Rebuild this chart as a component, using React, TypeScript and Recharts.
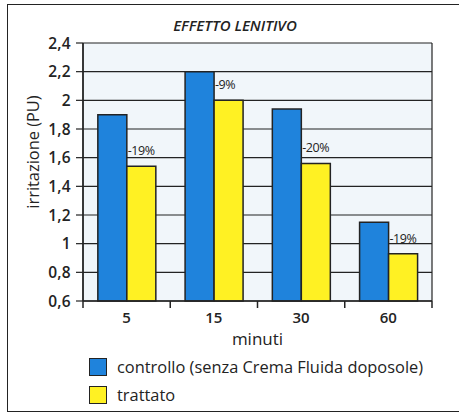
import { BarChart, Bar, XAxis, YAxis, CartesianGrid, LabelList, Label } from "recharts";

const minuti = ["5", "15", "30", "60"];
const controllo = [1.9, 2.2, 1.94, 1.15];
const trattato = [1.54, 2.0, 1.56, 0.93];
const riduzione = ["-19%", "-9%", "-20%", "-19%"];
const yTicks = [0.6, 0.8, 1, 1.2, 1.4, 1.6, 1.8, 2, 2.2, 2.4];
const seriesNames = ["controllo (senza Crema Fluida doposole)", "trattato"];
const seriesColors = ["#1f83dc", "#fff123"];

const data = minuti.map((m, i) => ({
  minuti: m,
  controllo: controllo[i],
  trattato: trattato[i],
  riduzione: riduzione[i],
}));

const font = "'Open Sans', sans-serif";
const ink = "#232323";
const W = 459;
const H = 416;
const plotLeft = 83;
const plotRight = 432;
const band = (plotRight - plotLeft) / minuti.length;

const fmt = (v: number) => String(v).replace(".", ",");

function XTick(props: any) {
  const { x, y, payload, index } = props;
  return (
    <g>
      <text x={x} y={y + 16} textAnchor="middle" dominantBaseline="central" fontSize={15} fontWeight={600} fill={ink} fontFamily={font}>
        {payload.value}
      </text>
      {index === 0 && <line x1={x - band / 2} x2={x - band / 2} y1={y} y2={y + 7} stroke={ink} strokeWidth={1.5} />}
      <line x1={x + band / 2} x2={x + band / 2} y1={y} y2={y + 7} stroke={ink} strokeWidth={1.5} />
    </g>
  );
}

function DropLabel(props: any) {
  const { x, y, value } = props;
  return (
    <text x={x + 1} y={y - 11} fontSize={12.5} fill={ink} fontFamily={font} letterSpacing={-0.5}>
      {value}
    </text>
  );
}

export default function App() {
  return (
    <div style={{ position: "absolute", left: 0, top: 0, width: W, height: H, background: "#fff", fontFamily: font }}>
      <div
        style={{
          position: "absolute",
          left: 7,
          top: 4,
          width: W - 7,
          height: 408,
          borderLeft: `1.5px solid ${ink}`,
          borderTop: `1.5px solid ${ink}`,
          borderBottom: `1.5px solid ${ink}`,
          boxSizing: "border-box",
        }}
      />
      <div
        style={{
          position: "absolute",
          left: 0,
          width: 470,
          top: 14,
          textAlign: "center",
          fontSize: 15,
          lineHeight: "22px",
          fontStyle: "italic",
          fontWeight: 600,
          color: ink,
        }}
      >
        EFFETTO LENITIVO
      </div>
      <div style={{ position: "absolute", left: 0, top: 0 }}>
        <BarChart
          width={W}
          height={H}
          data={data}
          margin={{ top: 43, left: 13, right: W - plotRight, bottom: 71 }}
          barCategoryGap="17%"
          barGap={0}
        >
          <CartesianGrid
            stroke={ink}
            strokeWidth={1.2}
            fill="#f1f6fa"
            fillOpacity={1}
            verticalCoordinatesGenerator={({ offset }: any) => [offset.left, offset.left + offset.width]}
          />
          <XAxis
            dataKey="minuti"
            tickLine={false}
            tickSize={0}
            tickMargin={0}
            axisLine={{ stroke: ink, strokeWidth: 1.5 }}
            tick={<XTick />}
            height={44}
          >
            <Label value="minuti" position="insideBottom" offset={0} fontSize={17} fill={ink} fontFamily={font} />
          </XAxis>
          <YAxis
            width={70}
            domain={[0.6, 2.4]}
            ticks={yTicks}
            tickFormatter={fmt}
            tickSize={7}
            tickMargin={5}
            tickLine={{ stroke: ink, strokeWidth: 1.2 }}
            axisLine={{ stroke: ink, strokeWidth: 1.5 }}
            tick={{ fontSize: 15.5, fontWeight: 600, fill: ink, fontFamily: font, letterSpacing: 0.3 }}
          >
            <Label
              content={({ viewBox }: any) => {
                const cx = viewBox.x + 19;
                const cy = viewBox.y + viewBox.height / 2 - 20;
                return (
                  <text
                    x={cx}
                    y={cy}
                    transform={`rotate(-90, ${cx}, ${cy})`}
                    textAnchor="middle"
                    dominantBaseline="central"
                    fontSize={16.4}
                    fill={ink}
                    fontFamily={font}
                  >
                    irritazione (PU)
                  </text>
                );
              }}
            />
          </YAxis>
          <Bar dataKey="controllo" fill={seriesColors[0]} stroke={ink} strokeWidth={1.5} isAnimationActive={false} />
          <Bar dataKey="trattato" fill={seriesColors[1]} stroke={ink} strokeWidth={1.5} isAnimationActive={false}>
            <LabelList dataKey="riduzione" content={<DropLabel />} />
          </Bar>
        </BarChart>
      </div>
      {seriesNames.map((name, i) => (
        <div key={name} style={{ position: "absolute", left: 89, top: 358 + i * 28, display: "flex", alignItems: "center" }}>
          <div
            style={{
              width: 18,
              height: 18,
              background: seriesColors[i],
              border: `1.5px solid ${ink}`,
              boxSizing: "border-box",
            }}
          />
          <span style={{ marginLeft: 10, fontSize: 16.4, color: ink, lineHeight: "18px" }}>{name}</span>
        </div>
      ))}
    </div>
  );
}
